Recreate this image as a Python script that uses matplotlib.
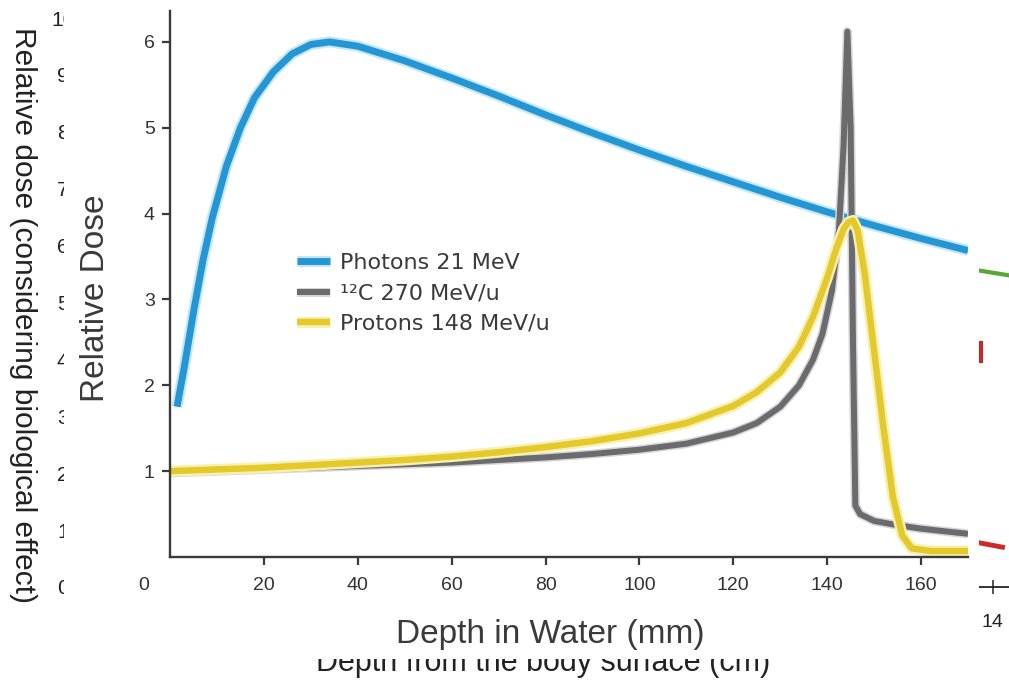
import matplotlib
matplotlib.use('Agg')
import matplotlib.pyplot as plt
import matplotlib.patheffects as pe
from matplotlib import font_manager as fm
from matplotlib.patches import Rectangle
from matplotlib.transforms import blended_transform_factory

W, H, DPI = 1009, 683, 100

# ---------------- data: foreground chart ----------------
photon_depth = [1.5, 3, 5, 7, 9, 12, 15, 18, 22, 26, 30, 34, 40, 50, 60, 70, 80,
                90, 100, 110, 120, 130, 140, 150, 160, 170]
photon_dose = [1.75, 2.2, 2.85, 3.45, 3.95, 4.55, 5.0, 5.35, 5.65, 5.86, 5.97, 6.0,
               5.95, 5.78, 5.58, 5.37, 5.15, 4.94, 4.74, 4.55, 4.37, 4.19, 4.02,
               3.86, 3.71, 3.57]

carbon_depth = [0, 10, 20, 30, 40, 50, 60, 70, 80, 90, 100, 110, 120, 125, 130, 134,
                137, 139, 141, 142.5, 143.5, 144.3, 145.0, 145.5, 146.0, 147, 150,
                155, 160, 165, 170]
carbon_dose = [0.98, 1.0, 1.02, 1.04, 1.06, 1.08, 1.1, 1.13, 1.16, 1.2, 1.25, 1.32,
               1.45, 1.56, 1.75, 2.0, 2.3, 2.6, 3.1, 3.8, 4.8, 6.12, 5.0, 2.5, 0.6,
               0.5, 0.42, 0.37, 0.33, 0.3, 0.27]

proton_depth = [0, 10, 20, 30, 40, 50, 60, 70, 80, 90, 100, 110, 120, 125, 130, 134,
                137, 140, 142, 143.5, 144.5, 145.5, 146.5, 148, 150, 152, 154, 156,
                158, 162, 170]
proton_dose = [1.0, 1.02, 1.04, 1.07, 1.1, 1.13, 1.17, 1.22, 1.28, 1.35, 1.44, 1.56,
               1.76, 1.92, 2.15, 2.45, 2.8, 3.25, 3.6, 3.82, 3.9, 3.92, 3.8, 3.3,
               2.4, 1.5, 0.7, 0.25, 0.1, 0.07, 0.07]

series_labels = ['Photons 21 MeV', '\u00b9\u00b2C 270 MeV/u', 'Protons 148 MeV/u']
x_ticks = [20, 40, 60, 80, 100, 120, 140, 160]
y_ticks = [1, 2, 3, 4, 5, 6]

# ---------------- data: background chart (mostly hidden) ----------------
bg_x_ticks = [0, 2, 4, 6, 8, 10, 12, 14]
bg_y_ticks = [0, 1, 2, 3, 4, 5, 6, 7, 8, 9, 10]
bg_green_depth = [13.0, 14.5]
bg_green_dose = [5.71, 5.43]
bg_red_peak_depth = [13.815, 13.815]
bg_red_peak_dose = [4.28, 3.97]
bg_red_tail_depth = [13.5, 14.15]
bg_red_tail_dose = [0.84, 0.70]


def px_rect(l, t, r, b):
    return [l / W, 1 - b / H, (r - l) / W, (b - t) / H]


def has_font(name):
    try:
        fm.findfont(fm.FontProperties(family=name), fallback_to_default=False)
        return True
    except Exception:
        return False


narrow = has_font('Liberation Sans Narrow')
label_family = 'Liberation Sans Narrow' if narrow else 'Liberation Sans'
label_size = 29 if narrow else 24

plt.rcParams['font.family'] = ['Liberation Sans', 'DejaVu Sans']

fig = plt.figure(figsize=(W / DPI, H / DPI), dpi=DPI, facecolor='white')

# ---------------- background chart ----------------
bg = fig.add_axes(px_rect(78, 18, 1058, 587), zorder=0)
bg.set_xlim(0, 15)
bg.set_ylim(0, 10)
bg.plot(bg_green_depth, bg_green_dose, color='#5aa832', lw=3)
bg.plot(bg_red_peak_depth, bg_red_peak_dose, color='#c8282a', lw=3)
bg.plot(bg_red_tail_depth, bg_red_tail_dose, color='#d0282a', lw=3.5)
for s in ['top', 'right', 'left']:
    bg.spines[s].set_visible(False)
bg.spines['bottom'].set_color('#222222')
bg.spines['bottom'].set_linewidth(1.3)
bg.set_xticks(bg_x_ticks)
bg.set_yticks(bg_y_ticks)
bg.tick_params(axis='x', direction='inout', length=9.5, width=1.1, color='#222222',
               pad=15, labelsize=14, labelcolor='#222222')
bg.tick_params(axis='y', length=0, pad=11, labelsize=15, labelcolor='#222222')
for lbl in bg.get_yticklabels():
    lbl.set_ha('center')
bg.set_ylabel('Relative dose (considering biological effect)', fontsize=21.5,
              color='#222222', rotation=-90)
bg.yaxis.label.set(va='center', ha='center', rotation_mode='anchor')
bg.yaxis.set_label_coords((23 - 78) / 980, (587 - 315) / 569)
bg.set_xlabel('Depth from the body surface (cm)', fontsize=22, color='#222222')
bg.xaxis.label.set(va='baseline', ha='center')
bg.xaxis.set_label_coords((543 - 78) / 980, (587 - 671) / 569)

# ---------------- white overlay picture area ----------------
fig.add_artist(Rectangle((64 / W, 1 - 659 / H), (979 - 64) / W, 659 / H,
                         transform=fig.transFigure, facecolor='white',
                         edgecolor='none', zorder=1))

# ---------------- foreground chart ----------------
ax = fig.add_axes(px_rect(170, 11, 968, 557), zorder=2)
ax.set_facecolor('none')
ax.set_xlim(0, 170)
ax.set_ylim(0, 6.36)

blue, gray, yellow = '#2596d4', '#6b6b6e', '#e3c92a'
ax.plot(photon_depth, photon_dose, color=blue, lw=5, solid_capstyle='butt',
        label=series_labels[0],
        path_effects=[pe.Stroke(linewidth=8, foreground='#c4e8fa'), pe.Normal()])
ax.plot(carbon_depth, carbon_dose, color=gray, lw=4.3, solid_capstyle='butt',
        label=series_labels[1],
        path_effects=[pe.Stroke(linewidth=6.5, foreground='#d6d6d8'), pe.Normal()])
ax.plot(proton_depth, proton_dose, color=yellow, lw=4.6, solid_capstyle='butt',
        label=series_labels[2],
        path_effects=[pe.Stroke(linewidth=8, foreground='#f7f0b4'), pe.Normal()])

for s in ['top', 'right']:
    ax.spines[s].set_visible(False)
for s in ['left', 'bottom']:
    ax.spines[s].set_color('#3a3a3a')
    ax.spines[s].set_linewidth(1.7)

ax.set_xticks(x_ticks)
ax.set_yticks(y_ticks)
ax.tick_params(axis='x', length=6, width=1.6, color='#3a3a3a', pad=8.5,
               labelsize=14, labelcolor='#333333')
ax.tick_params(axis='y', length=6, width=1.6, color='#3a3a3a', pad=5,
               labelsize=14, labelcolor='#333333')

# origin label placed left of the corner, as in the picture
ax.text(-5.7, (557 - 586) / 546, '0',
        transform=blended_transform_factory(ax.transData, ax.transAxes),
        ha='center', va='center', fontsize=14, color='#333333', clip_on=False)

ax.set_ylabel('Relative Dose', family=label_family, fontsize=label_size, color='#3a3a3a')
ax.yaxis.label.set(va='center', ha='center', rotation_mode='anchor')
ax.yaxis.set_label_coords((95 - 170) / 798, (557 - 298) / 546)
ax.set_xlabel('Depth in Water (mm)', family=label_family, fontsize=label_size, color='#3a3a3a')
ax.xaxis.label.set(va='center', ha='center')
ax.xaxis.set_label_coords((550 - 170) / 798, (557 - 635) / 546)

leg = ax.legend(loc='upper left', bbox_to_anchor=(297 / W, 1 - 253 / H),
                bbox_transform=fig.transFigure, frameon=False, borderpad=0,
                borderaxespad=0, handlelength=1.5, handletextpad=0.45,
                labelspacing=0.47, prop={'family': 'DejaVu Sans', 'size': 16})
for t in leg.get_texts():
    t.set_color('#3a3a3a')

fig.savefig('out.png', dpi=DPI, facecolor='white')
